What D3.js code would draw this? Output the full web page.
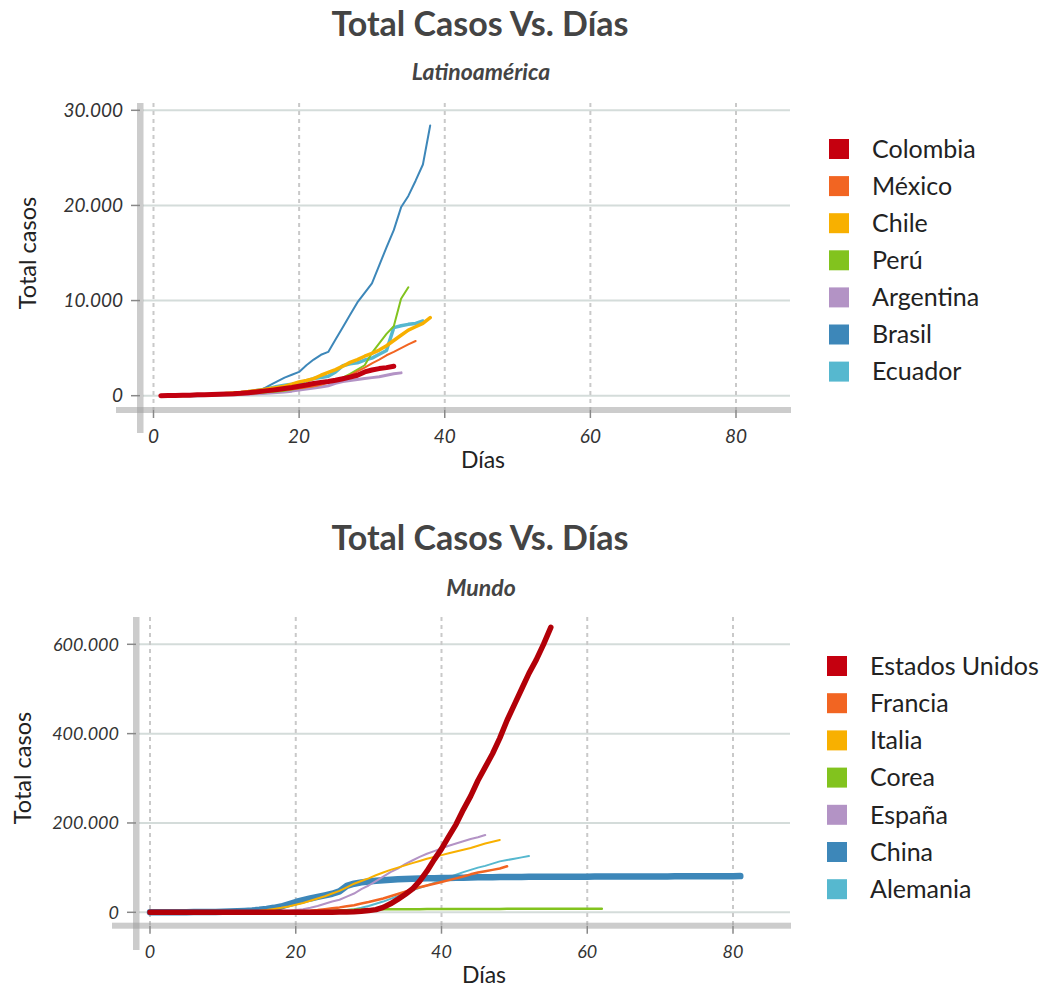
<!DOCTYPE html>
<html>
<head>
<meta charset="utf-8">
<script src="https://cdn.jsdelivr.net/npm/d3@7"></script>
<style>
  html, body { margin: 0; padding: 0; background: #ffffff; }
  svg { display: block; font-family: Lato, "Open Sans", sans-serif; }
</style>
</head>
<body>
<svg id="chart" width="1061" height="987"></svg>
<script>
// ---------------- DATA ----------------
const chartTitle = "Total Casos Vs. Días";
const xAxisTitle = "Días";
const yAxisTitle = "Total casos";
const xTicks = [0, 20, 40, 60, 80];

// Latinoamérica (values from day 1)
const latamSubtitle = "Latinoamérica";
const latamFirstDay = 1;
const latamYTicks = [0, 10000, 20000, 30000];
const latamCountries = ["Colombia", "México", "Chile", "Perú", "Argentina", "Brasil", "Ecuador"];
const colombia = [0,10,20,40,60,90,110,130,150,170,200,250,320,400,480,560,650,750,860,1000,1130,1280,1400,1500,1620,1780,1950,2150,2500,2700,2850,2950,3100];
const mexico = [0,5,10,15,25,40,55,80,100,130,160,200,250,310,370,450,520,600,680,770,880,1000,1150,1380,1600,1850,2150,2550,2950,3400,3800,4250,4600,5000,5400,5750];
const chile = [0,5,15,25,40,60,80,120,160,220,280,350,430,530,630,750,860,1000,1200,1450,1600,1800,2150,2450,2750,3100,3500,3800,4150,4450,4800,5250,5800,6350,6900,7250,7600,8200];
const peru = [0,5,10,20,30,40,50,60,80,100,120,150,200,250,320,380,450,530,640,770,900,1030,1200,1420,1650,1900,2300,2750,3200,4500,5500,6500,7300,10200,11400];
const argentina = [0,5,10,15,20,30,40,55,70,90,110,130,160,200,240,280,330,400,480,600,700,800,920,1050,1300,1500,1600,1700,1800,1900,2000,2150,2300,2400];
const brasil = [0,10,20,30,50,70,100,130,170,210,250,300,350,420,700,1100,1500,1900,2200,2500,3200,3800,4300,4600,5900,7200,8500,9800,10800,11800,13700,15600,17400,19800,21000,22600,24300,28400];
const ecuador = [0,5,10,15,20,30,50,80,120,170,230,300,400,530,650,800,980,1100,1200,1330,1550,1800,1900,2050,2500,3150,3350,3450,3750,3950,4350,4750,7150,7350,7500,7600,7850];
const latamValues = [colombia, mexico, chile, peru, argentina, brasil, ecuador];

// Mundo (values from day 0)
const mundoSubtitle = "Mundo";
const mundoFirstDay = 0;
const mundoYTicks = [0, 200000, 400000, 600000];
const mundoCountries = ["Estados Unidos", "Francia", "Italia", "Corea", "España", "China", "Alemania"];
const estadosUnidos = [0,0,0,0,0,0,0,0,0,0,0,0,0,0,0,0,0,0,0,0,0,0,0,0,100,300,500,800,1300,2200,3800,6000,11000,19000,29000,40000,52000,70000,92000,118000,142000,170000,197000,230000,260000,295000,325000,355000,390000,430000,465000,500000,535000,565000,600000,638000];
const francia = [0,0,0,0,10,20,30,50,80,120,180,250,350,450,600,800,1000,1200,1400,1700,2000,2500,3500,5000,7000,9000,11000,13500,16000,19500,23000,27000,31000,36000,41000,46000,51000,56000,60000,64000,68000,72000,76000,80000,85000,89000,92000,95000,98000,103000];
const italia = [0,0,0,0,10,20,40,80,150,250,400,650,1000,1600,2400,3500,5000,7500,10000,13000,17000,21000,26000,31000,36000,42000,48000,56000,64000,70000,76000,83000,89000,95000,100000,105000,110000,115000,120000,124000,128000,132000,136000,140000,144000,149000,154000,158000,162000];
const corea = [10,15,20,25,30,30,30,30,30,30,30,30,30,30,30,30,50,100,150,200,300,600,1000,1600,2400,3200,4000,4800,5500,6000,6300,6500,6700,6800,6900,7000,7050,7100,7150,7200,7250,7300,7350,7400,7450,7500,7550,7600,7650,7700,7750,7800,7850,7900,7950,8000,8000,8050,8100,8100,8150,8200,8200];
const espana = [0,0,0,0,10,20,30,50,80,120,170,230,300,400,500,700,1000,1500,2200,3200,5000,7000,10000,14000,19000,24000,28000,35000,42000,52000,60000,70000,80000,90000,98000,108000,116000,124000,131000,137000,143000,149000,154000,159000,164000,168000,173000];
const china = [0,50,100,150,200,300,400,500,700,900,1200,1700,2300,3000,4000,5500,7500,10000,13000,18000,23000,27000,31000,34500,38000,41500,47000,59000,64000,67000,69000,70500,72000,73000,74000,74500,75000,75500,76000,76300,76600,77000,77300,77600,77900,78200,78400,78600,78800,79000,79200,79300,79400,79500,79550,79600,79650,79700,79750,79800,79850,79900,79950,80000,80050,80100,80150,80200,80250,80300,80350,80400,80450,80500,80550,80600,80650,80700,80750,80800,80900,81000];
const alemania = [0,0,0,0,0,5,10,15,20,30,40,60,80,100,150,200,300,400,500,700,1000,1500,2000,2500,3000,3500,4000,5000,7000,10000,14000,19000,24000,30000,36000,42000,49000,55000,60000,66000,71000,78000,84000,90000,95000,100000,104000,109000,114000,117000,120000,123000,126000];
const mundoValues = [estadosUnidos, francia, italia, corea, espana, china, alemania];

// ---------------- STYLE ----------------
const legendColors = ["#c5000f", "#f26522", "#f8b000", "#82c31e", "#b393c5", "#3d87b9", "#56b8cf"];
const latamLineColors = ["#c20010", "#f26522", "#f8b000", "#82c31e", "#b393c5", "#3d87b9", "#56b8cf"];
const mundoLineColors = ["#b20008", "#f26522", "#f8b000", "#82c31e", "#b393c5", "#3d87b9", "#56b8cf"];
const latamLineWidths = [5, 2, 3.5, 2, 3, 2, 3.5];
const mundoLineWidths = [5.5, 2.5, 2, 2.5, 2, 6.5, 2];

const locale = d3.formatLocale({ decimal: ",", thousands: ".", grouping: [3], currency: ["", ""] });
const fmt = locale.format(",d");

const svg = d3.select("#chart");

function drawChart(cfg) {
  const g = svg.append("g");
  const x = d3.scaleLinear().domain([0, 80]).range(cfg.xRange);
  const y = d3.scaleLinear().domain([0, cfg.yTicks[cfg.yTicks.length - 1]]).range(cfg.yRange);

  // titles
  g.append("text").attr("x", 480).attr("y", cfg.titleY).attr("text-anchor", "middle")
    .attr("font-size", 34).attr("font-weight", 700).attr("fill", "#444").text(chartTitle);
  g.append("text").attr("x", 481).attr("y", cfg.subtitleY).attr("text-anchor", "middle")
    .attr("font-size", 23).attr("font-weight", 700).attr("font-style", "italic").attr("fill", "#444").text(cfg.subtitle);

  // horizontal grid
  g.append("g").selectAll("line").data(cfg.yTicks).join("line")
    .attr("x1", cfg.yBarX + 6).attr("x2", cfg.plotRight)
    .attr("y1", d => y(d)).attr("y2", d => y(d))
    .attr("stroke", "#d4dcda").attr("stroke-width", 2);

  // vertical dashed grid
  g.append("g").selectAll("line").data(xTicks).join("line")
    .attr("x1", d => x(d)).attr("x2", d => x(d))
    .attr("y1", cfg.plotTop).attr("y2", cfg.xBarY + 3)
    .attr("stroke", "#c9c9c9").attr("stroke-width", 2).attr("stroke-dasharray", "4,4");

  // axis bars
  g.append("rect").attr("x", cfg.yBarX).attr("y", cfg.plotTop).attr("width", 6.5)
    .attr("height", cfg.yBarBottom - cfg.plotTop).attr("fill", "#999").attr("opacity", 0.5);
  g.append("rect").attr("x", cfg.xBarLeft).attr("y", cfg.xBarY).attr("width", cfg.plotRight + 1 - cfg.xBarLeft)
    .attr("height", 6).attr("fill", "#999").attr("opacity", 0.5);

  // y ticks + labels
  const yt = g.append("g").selectAll("g").data(cfg.yTicks).join("g");
  yt.append("line").attr("x1", cfg.yBarX - 6).attr("x2", cfg.yBarX + 3)
    .attr("y1", d => y(d)).attr("y2", d => y(d)).attr("stroke", "#888").attr("stroke-width", 1.5);
  yt.append("text").attr("x", cfg.yBarX - 14).attr("y", d => y(d)).attr("dy", "0.35em")
    .attr("text-anchor", "end").attr("font-size", cfg.tickFont).attr("font-style", "italic")
    .attr("fill", "#333").text(d => fmt(d));

  // x ticks + labels
  const xt = g.append("g").selectAll("g").data(xTicks).join("g");
  xt.append("line").attr("x1", d => x(d)).attr("x2", d => x(d))
    .attr("y1", cfg.xBarY + 3).attr("y2", cfg.xBarY + 11).attr("stroke", "#888").attr("stroke-width", 1.5);
  xt.append("text").attr("x", d => x(d)).attr("y", cfg.xLabelY).attr("dy", "0.35em")
    .attr("text-anchor", "middle").attr("font-size", cfg.tickFont).attr("font-style", "italic")
    .attr("fill", "#333").text(d => d);

  // axis titles
  g.append("text").attr("x", cfg.xTitleX).attr("y", cfg.xTitleY).attr("text-anchor", "middle")
    .attr("font-size", 23).attr("fill", "#222").text(xAxisTitle);
  g.append("text").attr("transform", `translate(${cfg.yTitleX},${cfg.yTitleY}) rotate(-90)`)
    .attr("text-anchor", "middle").attr("font-size", 23.5).attr("fill", "#222").text(yAxisTitle);

  // lines (first legend entry drawn last, on top)
  const line = d3.line().x(d => x(d[0])).y(d => y(d[1]));
  const series = cfg.countries.map((c, i) => ({
    name: c, color: cfg.lineColors[i], width: cfg.lineWidths[i],
    pts: cfg.values[i].map((v, k) => [cfg.firstDay + k, v])
  }));
  g.append("g").selectAll("path").data(series.slice().reverse()).join("path")
    .attr("d", d => line(d.pts)).attr("fill", "none")
    .attr("stroke", d => d.color).attr("stroke-width", d => d.width)
    .attr("stroke-linejoin", "round").attr("stroke-linecap", "round");

  // legend
  const lg = g.append("g").selectAll("g").data(cfg.countries).join("g")
    .attr("transform", (d, i) => `translate(${cfg.legendX},${cfg.legendY0 + i * cfg.legendStep})`);
  lg.append("rect").attr("x", 0).attr("y", -10).attr("width", 20).attr("height", 20)
    .attr("fill", (d, i) => legendColors[i]);
  lg.append("text").attr("x", 43).attr("y", 0).attr("dy", "0.35em")
    .attr("font-size", 25).attr("fill", "#222").text(d => d);
}

drawChart({
  subtitle: latamSubtitle, titleY: 36, subtitleY: 80,
  xRange: [153.5, 736], yRange: [395.7, 110.3], yTicks: latamYTicks,
  plotTop: 103, plotRight: 790, yBarX: 137, yBarBottom: 433, xBarY: 407, xBarLeft: 116,
  xLabelY: 436, tickFont: 19, xTitleX: 483, xTitleY: 468, yTitleX: 36, yTitleY: 253,
  countries: latamCountries, values: latamValues, firstDay: latamFirstDay,
  lineColors: latamLineColors, lineWidths: latamLineWidths,
  legendX: 829, legendY0: 149, legendStep: 37.1
});

drawChart({
  subtitle: mundoSubtitle, titleY: 550, subtitleY: 596,
  xRange: [150, 733], yRange: [912.3, 644.3], yTicks: mundoYTicks,
  plotTop: 617, plotRight: 790, yBarX: 133, yBarBottom: 950, xBarY: 922.7, xBarLeft: 112,
  xLabelY: 952, tickFont: 18, xTitleX: 484, xTitleY: 983, yTitleX: 31, yTitleY: 768,
  countries: mundoCountries, values: mundoValues, firstDay: mundoFirstDay,
  lineColors: mundoLineColors, lineWidths: mundoLineWidths,
  legendX: 827, legendY0: 666, legendStep: 37.2
});
</script>
</body>
</html>
